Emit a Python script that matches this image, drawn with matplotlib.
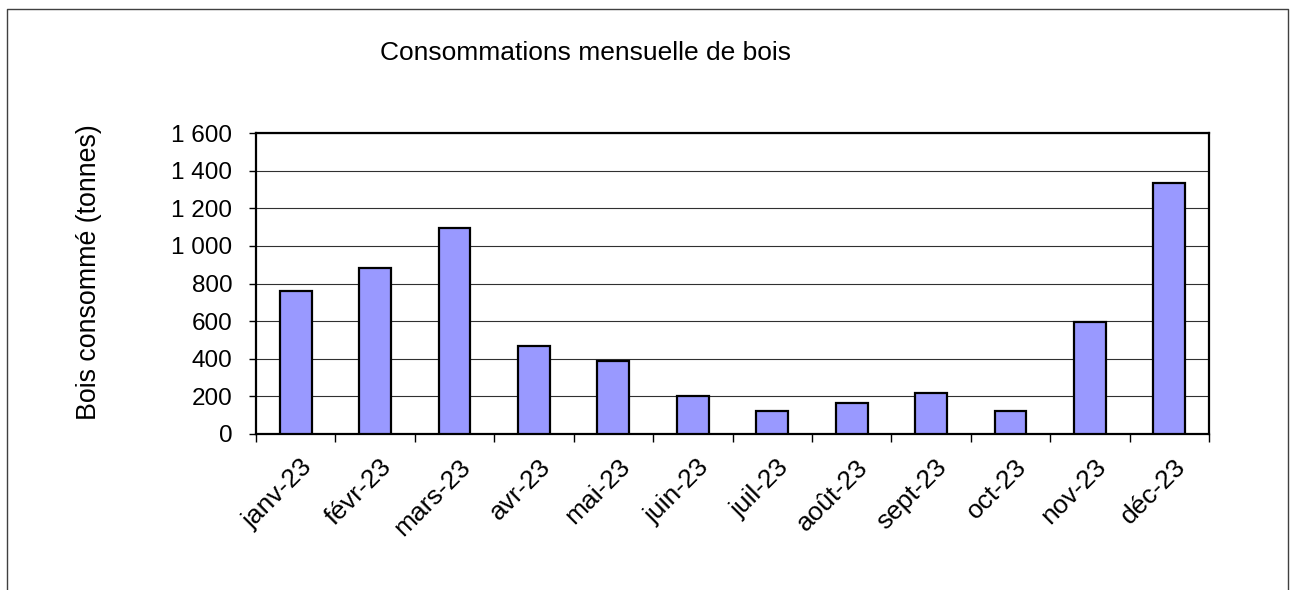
import matplotlib
matplotlib.use("Agg")
import matplotlib.pyplot as plt
import matplotlib.transforms as mtransforms
from matplotlib.lines import Line2D
import numpy as np

plt.rcParams['font.family'] = ['Liberation Sans', 'DejaVu Sans']

months = ["janv-23", "févr-23", "mars-23", "avr-23", "mai-23", "juin-23",
          "juil-23", "août-23", "sept-23", "oct-23", "nov-23", "déc-23"]
values = [760, 884, 1093, 467, 386, 200, 124, 166, 216, 120, 598, 1332]
yticks = [0, 200, 400, 600, 800, 1000, 1200, 1400, 1600]
ytick_labels = ["0", "200", "400", "600", "800", "1 000", "1 200", "1 400", "1 600"]
title = "Consommations mensuelle de bois"
ylabel = "Bois consommé (tonnes)"

W, H = 1296, 590
fig = plt.figure(figsize=(W / 100, H / 100), dpi=100)
ax = fig.add_axes([256 / W, 1 - 434 / H, (1209 - 256) / W, (434 - 133) / H])

x = np.arange(len(months))
ax.bar(x, values, width=0.4, color="#9999FF", edgecolor="black", linewidth=1.6, zorder=3)

ax.set_xlim(-0.5, len(months) - 0.5)
ax.set_ylim(0, 1600)
ax.set_yticks(yticks)
ax.set_yticklabels(ytick_labels, fontsize=17.5)
ax.yaxis.grid(True, color="#303030", linewidth=0.8, zorder=0)
ax.set_axisbelow(True)
ax.tick_params(axis="y", direction="out", length=5, width=1, pad=12)

ax.set_xticks(x)
ax.set_xticklabels(months, rotation=45, ha="right", va="top", rotation_mode="anchor", fontsize=19)
ax.set_xticks(np.arange(len(months) + 1) - 0.5, minor=True)
ax.tick_params(axis="x", which="major", length=0, pad=15)
ax.tick_params(axis="x", which="minor", direction="out", length=6, width=1)
offset = mtransforms.ScaledTranslation(4 / 100, 0, fig.dpi_scale_trans)
for lbl in ax.get_xticklabels():
    lbl.set_transform(lbl.get_transform() + offset)

for s in ax.spines.values():
    s.set_linewidth(1.6)
    s.set_color("black")

fig.text(89 / W, 1 - 272 / H, ylabel, fontsize=19.3, rotation=90, ha="center", va="center")
fig.text(585 / W, 1 - 53 / H, title, fontsize=19, ha="center", va="center")

# figure border (left, top, right)
bx0, bx1, by0 = 7 / W, 1288 / W, 1 - 9 / H
fig.add_artist(Line2D([bx0, bx0, bx1, bx1], [0, by0, by0, 0], transform=fig.transFigure,
                      color="#404040", linewidth=1.0))

fig.savefig("out.png", dpi=100)
